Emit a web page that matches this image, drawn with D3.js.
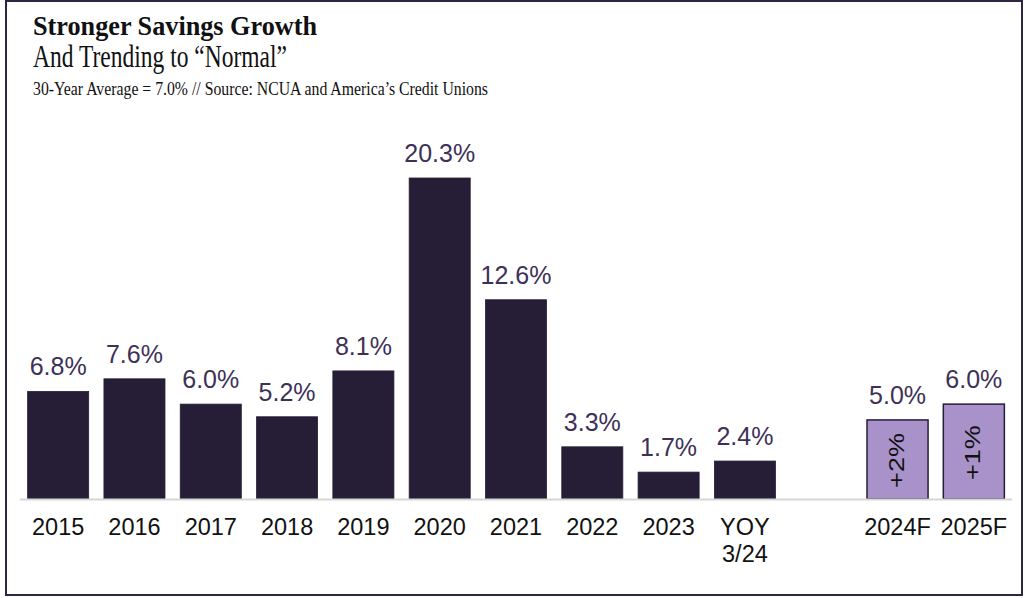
<!DOCTYPE html>
<html>
<head>
<meta charset="utf-8">
<script src="https://cdn.jsdelivr.net/npm/d3@7"></script>
<style>
  html, body { margin: 0; padding: 0; background: #fff; }
  svg { display: block; }
</style>
</head>
<body>
<svg id="chart" width="1025" height="598"></svg>
<script>
// Savings growth by year, plus forecasts
const categories = ["2015", "2016", "2017", "2018", "2019", "2020", "2021", "2022", "2023", "YOY\n3/24", "", "2024F", "2025F"];
const values = [6.8, 7.6, 6.0, 5.2, 8.1, 20.3, 12.6, 3.3, 1.7, 2.4, null, 5.0, 6.0];
const valueLabels = ["6.8%", "7.6%", "6.0%", "5.2%", "8.1%", "20.3%", "12.6%", "3.3%", "1.7%", "2.4%", "", "5.0%", "6.0%"];
const forecastFlags = [false, false, false, false, false, false, false, false, false, false, false, true, true];
const forecastNotes = ["", "", "", "", "", "", "", "", "", "", "", "+2%", "+1%"];

const W = 1025, H = 598;
const svg = d3.select("#chart");

// outer frame
svg.append("rect")
  .attr("x", 6).attr("y", 1).attr("width", W - 9).attr("height", H - 4)
  .attr("fill", "none").attr("stroke", "#2e2444").attr("stroke-width", 2);

// titles
const serif = "Liberation Serif, Georgia, serif";
svg.append("text").attr("x", 33).attr("y", 35)
  .attr("font-family", serif).attr("font-weight", "bold")
  .attr("font-size", 28).attr("fill", "#111")
  .attr("textLength", 284).attr("lengthAdjust", "spacingAndGlyphs")
  .text("Stronger Savings Growth");
svg.append("text").attr("x", 33).attr("y", 67)
  .attr("font-family", serif)
  .attr("font-size", 32).attr("fill", "#111")
  .attr("textLength", 254).attr("lengthAdjust", "spacingAndGlyphs")
  .text("And Trending to \u201CNormal\u201D");
svg.append("text").attr("x", 33).attr("y", 95)
  .attr("font-family", serif)
  .attr("font-size", 19.5).attr("fill", "#111")
  .attr("textLength", 455).attr("lengthAdjust", "spacingAndGlyphs")
  .text("30-Year Average = 7.0% // Source: NCUA and America\u2019s Credit Unions");

const baseY = 499;
const x = d3.scaleBand().domain(d3.range(categories.length)).range([20, 1012]).paddingInner(0.2).paddingOuter(0.1);
const y = d3.scaleLinear().domain([0, 20.3]).range([baseY, 178]);

const data = categories.map((c, i) => ({ i, c, v: values[i], lab: valueLabels[i], f: forecastFlags[i], note: forecastNotes[i] }))
  .filter(d => d.v !== null);

// bars
svg.append("g").selectAll("rect").data(data).join("rect")
  .attr("x", d => x(d.i)).attr("width", x.bandwidth())
  .attr("y", d => y(d.v)).attr("height", d => baseY - y(d.v))
  .attr("fill", d => d.f ? "#a992c9" : "#261d36")
  .attr("stroke", "#261d36").attr("stroke-width", d => d.f ? 1.5 : 0.8);

// baseline
svg.append("line").attr("x1", 20).attr("x2", 1012).attr("y1", baseY + 0.5).attr("y2", baseY + 0.5)
  .attr("stroke", "#d6d6d6").attr("stroke-width", 2);

// value labels
svg.append("g").selectAll("text").data(data).join("text")
  .attr("x", d => x(d.i) + x.bandwidth() / 2)
  .attr("y", d => y(d.v) - 16)
  .attr("text-anchor", "middle")
  .attr("font-family", "Liberation Sans, Arial, sans-serif")
  .attr("font-size", 25).attr("fill", "#3e3157")
  .text(d => d.lab);

// rotated notes inside forecast bars
svg.append("g").selectAll("text").data(data.filter(d => d.note)).join("text")
  .attr("transform", d => `translate(${x(d.i) + x.bandwidth() / 2 + 6},${(y(d.v) + baseY) / 2 + 1}) rotate(-90) scale(1.04,0.82)`)
  .attr("text-anchor", "middle")
  .attr("font-family", "Liberation Sans, Arial, sans-serif")
  .attr("font-size", 26).attr("fill", "#111")
  .text(d => d.note);

// category labels
const catG = svg.append("g").selectAll("text").data(data).join("text")
  .attr("x", d => x(d.i) + x.bandwidth() / 2)
  .attr("y", 535)
  .attr("text-anchor", "middle")
  .attr("font-family", "Liberation Sans, Arial, sans-serif")
  .attr("font-size", 23.5).attr("fill", "#111");
catG.each(function (d) {
  const lines = d.c.split("\n");
  d3.select(this).selectAll("tspan").data(lines).join("tspan")
    .attr("x", x(d.i) + x.bandwidth() / 2)
    .attr("dy", (l, k) => k === 0 ? 0 : 27)
    .text(l => l);
});
</script>
</body>
</html>
